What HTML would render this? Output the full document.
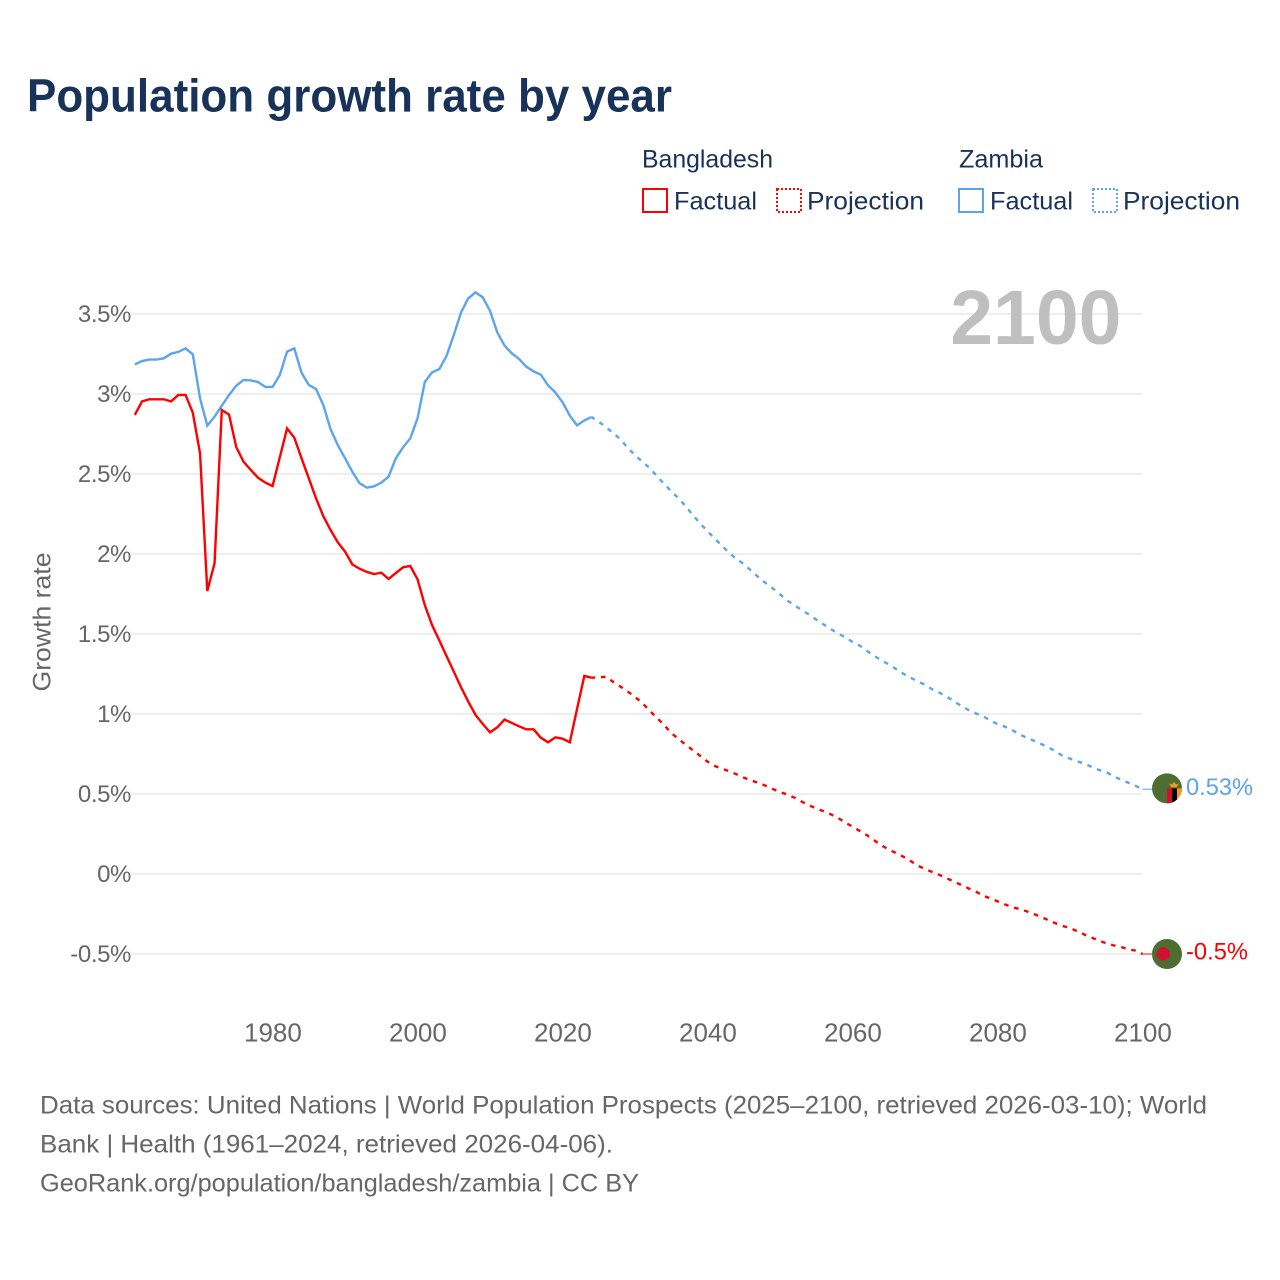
<!DOCTYPE html>
<html lang="en">
<head>
<meta charset="utf-8">
<title>Population growth rate by year</title>
<style>
  html, body { margin: 0; padding: 0; background: #fff; }
  svg { display: block; font-family: "Liberation Sans", "DejaVu Sans", sans-serif; }
</style>
</head>
<body>
<svg id="chart" xmlns="http://www.w3.org/2000/svg" width="1280" height="1280" viewBox="0 0 1280 1280">
  <rect x="0" y="0" width="1280" height="1280" fill="#ffffff"/>
  <text x="27" y="111.5" font-size="46" font-weight="bold" fill="#18325a" textLength="645" lengthAdjust="spacingAndGlyphs">Population growth rate by year</text>

  <g font-size="25" fill="#18325a">
    <text x="642" y="167.5" textLength="131" lengthAdjust="spacingAndGlyphs">Bangladesh</text>
    <text x="959" y="167.5" textLength="84" lengthAdjust="spacingAndGlyphs">Zambia</text>
    <rect x="643" y="189" width="24" height="23" fill="none" stroke="#ff0000" stroke-width="2"/>
    <text x="674" y="209.5" textLength="83" lengthAdjust="spacingAndGlyphs">Factual</text>
    <rect x="777" y="189" width="24" height="23" fill="none" stroke="#ff0000" stroke-width="2" stroke-dasharray="2 2"/>
    <text x="807" y="209.5" textLength="117" lengthAdjust="spacingAndGlyphs">Projection</text>
    <rect x="959" y="189" width="24" height="23" fill="none" stroke="#5ba5ee" stroke-width="2"/>
    <text x="990" y="209.5" textLength="83" lengthAdjust="spacingAndGlyphs">Factual</text>
    <rect x="1093" y="189" width="24" height="23" fill="none" stroke="#5ba5ee" stroke-width="2" stroke-dasharray="2 2"/>
    <text x="1123" y="209.5" textLength="117" lengthAdjust="spacingAndGlyphs">Projection</text>
  </g>

  <g id="grid"></g>
  <g id="y-ticks"></g>
  <g id="x-ticks"></g>

  <text transform="translate(50.5,622) rotate(-90)" text-anchor="middle" font-size="25" fill="#666666" textLength="139" lengthAdjust="spacingAndGlyphs">Growth rate</text>
  <text x="1121.5" y="344" text-anchor="end" font-size="77" font-weight="bold" fill="#bfbfbf">2100</text>

  <g id="series"></g>
  <g id="end-markers"></g>

  <g font-size="25" fill="#666666">
    <text x="40" y="1113.5" textLength="1167" lengthAdjust="spacingAndGlyphs">Data sources: United Nations | World Population Prospects (2025–2100, retrieved 2026-03-10); World</text>
    <text x="40" y="1152.5" textLength="573" lengthAdjust="spacingAndGlyphs">Bank | Health (1961–2024, retrieved 2026-04-06).</text>
    <text x="40" y="1191.5" textLength="599" lengthAdjust="spacingAndGlyphs">GeoRank.org/population/bangladesh/zambia | CC BY</text>
  </g>
</svg>

<script>
const factualStartYear = 1961;
const projectionStartYear = 2024;

const bangladeshFactual = [
  2.869, 2.954, 2.967, 2.967, 2.967, 2.954, 2.994, 2.994, 2.883, 2.629,
  1.769, 1.942, 2.9, 2.871, 2.667, 2.577, 2.525, 2.477, 2.446, 2.425,
  2.604, 2.785, 2.727, 2.598, 2.473, 2.348, 2.237, 2.15, 2.073, 2.015,
  1.935, 1.908, 1.888, 1.875, 1.883, 1.844, 1.881, 1.917, 1.925, 1.842,
  1.681, 1.556, 1.46, 1.362, 1.265, 1.167, 1.077, 0.994, 0.9375, 0.885,
  0.917, 0.965, 0.944, 0.923, 0.904, 0.904, 0.852, 0.823, 0.854, 0.846,
  0.823, 1.031, 1.2375, 1.227
];
const bangladeshProjection = [
  1.227, 1.229, 1.233, 1.2, 1.171, 1.14, 1.106,
  1.069, 1.021, 0.977, 0.931, 0.881, 0.844, 0.808, 0.773, 0.7375, 0.702,
  0.675, 0.658, 0.642, 0.623, 0.602, 0.585, 0.569, 0.552, 0.531, 0.5125,
  0.496, 0.477, 0.452, 0.429, 0.41, 0.392, 0.373, 0.35, 0.321, 0.296,
  0.269, 0.242, 0.21, 0.179, 0.152, 0.131, 0.108, 0.081, 0.052, 0.031,
  0.0125, -0.006, -0.027, -0.048, -0.069, -0.09, -0.11, -0.135, -0.152, -0.171,
  -0.19, -0.206, -0.219, -0.233, -0.25, -0.269, -0.288, -0.308, -0.325, -0.338,
  -0.358, -0.379, -0.398, -0.417, -0.433, -0.446, -0.456, -0.469, -0.479, -0.5
];
const zambiaFactual = [
  3.185, 3.206, 3.215, 3.215, 3.223, 3.252, 3.263, 3.285, 3.248, 2.973,
  2.802, 2.858, 2.927, 2.994, 3.052, 3.088, 3.085, 3.075, 3.044, 3.044,
  3.119, 3.265, 3.285, 3.133, 3.056, 3.031, 2.931, 2.781, 2.681, 2.598,
  2.515, 2.442, 2.415, 2.423, 2.446, 2.483, 2.598, 2.667, 2.723, 2.848,
  3.075, 3.135, 3.156, 3.238, 3.369, 3.51, 3.598, 3.635, 3.604, 3.519,
  3.385, 3.302, 3.254, 3.219, 3.171, 3.142, 3.121, 3.054, 3.01, 2.948,
  2.865, 2.804, 2.835, 2.856
];
const zambiaProjection = [
  2.856, 2.827, 2.792, 2.756, 2.717, 2.663, 2.617,
  2.577, 2.538, 2.488, 2.438, 2.392, 2.348, 2.298, 2.242, 2.19, 2.142,
  2.096, 2.05, 2.008, 1.967, 1.938, 1.896, 1.856, 1.819, 1.785, 1.748,
  1.71, 1.679, 1.65, 1.621, 1.59, 1.56, 1.531, 1.504, 1.479, 1.45,
  1.427, 1.394, 1.3625, 1.335, 1.31, 1.281, 1.252, 1.227, 1.204, 1.183,
  1.154, 1.133, 1.108, 1.079, 1.05, 1.025, 1.004, 0.9875, 0.958, 0.9375,
  0.921, 0.9, 0.873, 0.852, 0.833, 0.8125, 0.792, 0.767, 0.7375, 0.721,
  0.704, 0.69, 0.669, 0.65, 0.6375, 0.61, 0.59, 0.571, 0.552, 0.53
];
const yTickValues = [-0.5, 0, 0.5, 1, 1.5, 2, 2.5, 3, 3.5];
const yTickLabels = ["-0.5%", "0%", "0.5%", "1%", "1.5%", "2%", "2.5%", "3%", "3.5%"];
const xTickYears = [1980, 2000, 2020, 2040, 2060, 2080, 2100];
const endLabels = ["-0.5%", "0.53%"];

const NS = "http://www.w3.org/2000/svg";
const RED = "#ff0000";
const BLUE = "#5ba5ee";

function xScale(year) { return 134.8 + (year - 1961) * 7.25; }
function yScale(value) { return 874 - value * 160; }

function pathFrom(values, startYear) {
  return values.map(function (v, i) {
    return (i === 0 ? "M" : "L") + xScale(startYear + i).toFixed(2) + " " + yScale(v).toFixed(2);
  }).join(" ");
}

const gridGroup = document.getElementById("grid");
const yTickGroup = document.getElementById("y-ticks");
yTickValues.forEach(function (v, i) {
  const line = document.createElementNS(NS, "line");
  
  
  line.setAttribute("x1", 131);
  line.setAttribute("x2", xScale(2100) - 0.5);
  line.setAttribute("y1", yScale(v));
  line.setAttribute("y2", yScale(v));
  line.setAttribute("stroke", "#eeeeee");
  line.setAttribute("stroke-width", 2);
  gridGroup.appendChild(line);

  const label = document.createElementNS(NS, "text");
  
  
  label.setAttribute("x", 131);
  label.setAttribute("y", yScale(v) + 8);
  label.setAttribute("text-anchor", "end");
  label.setAttribute("font-size", 24);
  label.setAttribute("letter-spacing", "-0.4");
  label.setAttribute("fill", "#666666");
  label.textContent = yTickLabels[i];
  yTickGroup.appendChild(label);
});

const xTickGroup = document.getElementById("x-ticks");
xTickYears.forEach(function (year) {
  const label = document.createElementNS(NS, "text");
  
  
  label.setAttribute("x", xScale(year) + 0.4);
  label.setAttribute("y", 1041.5);
  label.setAttribute("text-anchor", "middle");
  label.setAttribute("font-size", 26);
  label.setAttribute("fill", "#666666");
  label.textContent = String(year);
  xTickGroup.appendChild(label);
});

const seriesGroup = document.getElementById("series");

const zambiaFactualLine = document.createElementNS(NS, "path");


zambiaFactualLine.setAttribute("d", pathFrom(zambiaFactual, factualStartYear));
zambiaFactualLine.setAttribute("fill", "none");
zambiaFactualLine.setAttribute("stroke", BLUE);
zambiaFactualLine.setAttribute("stroke-width", 2.4);
seriesGroup.appendChild(zambiaFactualLine);

const zambiaProjectionLine = document.createElementNS(NS, "path");


zambiaProjectionLine.setAttribute("d", pathFrom(zambiaProjection, projectionStartYear));
zambiaProjectionLine.setAttribute("fill", "none");
zambiaProjectionLine.setAttribute("stroke", BLUE);
zambiaProjectionLine.setAttribute("stroke-width", 2.4);
zambiaProjectionLine.setAttribute("stroke-dasharray", "4.6 5.8");
zambiaProjectionLine.setAttribute("stroke-dashoffset", "1");
seriesGroup.appendChild(zambiaProjectionLine);

const bangladeshFactualLine = document.createElementNS(NS, "path");


bangladeshFactualLine.setAttribute("d", pathFrom(bangladeshFactual, factualStartYear));
bangladeshFactualLine.setAttribute("fill", "none");
bangladeshFactualLine.setAttribute("stroke", RED);
bangladeshFactualLine.setAttribute("stroke-width", 2.4);
seriesGroup.appendChild(bangladeshFactualLine);

const bangladeshProjectionLine = document.createElementNS(NS, "path");


bangladeshProjectionLine.setAttribute("d", pathFrom(bangladeshProjection, projectionStartYear));
bangladeshProjectionLine.setAttribute("fill", "none");
bangladeshProjectionLine.setAttribute("stroke", RED);
bangladeshProjectionLine.setAttribute("stroke-width", 2.4);
bangladeshProjectionLine.setAttribute("stroke-dasharray", "4.6 5.8");
bangladeshProjectionLine.setAttribute("stroke-dashoffset", "1");
seriesGroup.appendChild(bangladeshProjectionLine);

const markers = document.getElementById("end-markers");
const flagX = 1167;

function svgEl(tag, attrs, parent) {
  const el = document.createElementNS(NS, tag);
  Object.keys(attrs).forEach(function (k) { el.setAttribute(k, attrs[k]); });
  parent.appendChild(el);
  return el;
}

const bdEndY = yScale(bangladeshProjection[bangladeshProjection.length - 1]);
const zmEndY = yScale(zambiaProjection[zambiaProjection.length - 1]);

const bdConnector = svgEl("line", { x1: xScale(2100), x2: 1152, y1: bdEndY, y2: bdEndY, stroke: RED, "stroke-width": 1 }, markers);



const zmConnector = svgEl("line", { x1: xScale(2100), x2: 1152, y1: zmEndY, y2: zmEndY, stroke: BLUE, "stroke-width": 1 }, markers);



const bdFlag = svgEl("g", { transform: "translate(" + flagX + " " + bdEndY + ")" }, markers);


svgEl("circle", { cx: 0, cy: 0, r: 15, fill: "#4d6e30" }, bdFlag);
svgEl("circle", { cx: -3.7, cy: 0, r: 6.7, fill: "#d2102f" }, bdFlag);

const zmFlag = svgEl("g", { transform: "translate(" + flagX + " " + (zmEndY - 0.8) + ")" }, markers);


const clip = svgEl("clipPath", { id: "zambia-clip" }, zmFlag);
svgEl("circle", { cx: 0, cy: 0, r: 15 }, clip);
svgEl("circle", { cx: 0, cy: 0, r: 15, fill: "#4d6e30" }, zmFlag);
svgEl("rect", { x: 0, y: 0, width: 5, height: 15, fill: "#d2102f", "clip-path": "url(#zambia-clip)" }, zmFlag);
svgEl("rect", { x: 5, y: 0, width: 5, height: 15, fill: "#000000", "clip-path": "url(#zambia-clip)" }, zmFlag);
svgEl("rect", { x: 10, y: 0, width: 5, height: 15, fill: "#f39a1e", "clip-path": "url(#zambia-clip)" }, zmFlag);
svgEl("polygon", { points: "2,-5 5,-4 7,-6.5 9,-4 12,-5 9.5,-1 4.5,-1", fill: "#f39a1e" }, zmFlag);

const bdEndLabel = svgEl("text", { x: 1186, y: bdEndY + 5.5, "font-size": 24.5, fill: RED, textLength: 62, lengthAdjust: "spacingAndGlyphs" }, markers);


bdEndLabel.textContent = endLabels[0];

const zmEndLabel = svgEl("text", { x: 1186, y: zmEndY + 6, "font-size": 24.5, fill: BLUE, textLength: 67, lengthAdjust: "spacingAndGlyphs" }, markers);


zmEndLabel.textContent = endLabels[1];
</script>
</body>
</html>
